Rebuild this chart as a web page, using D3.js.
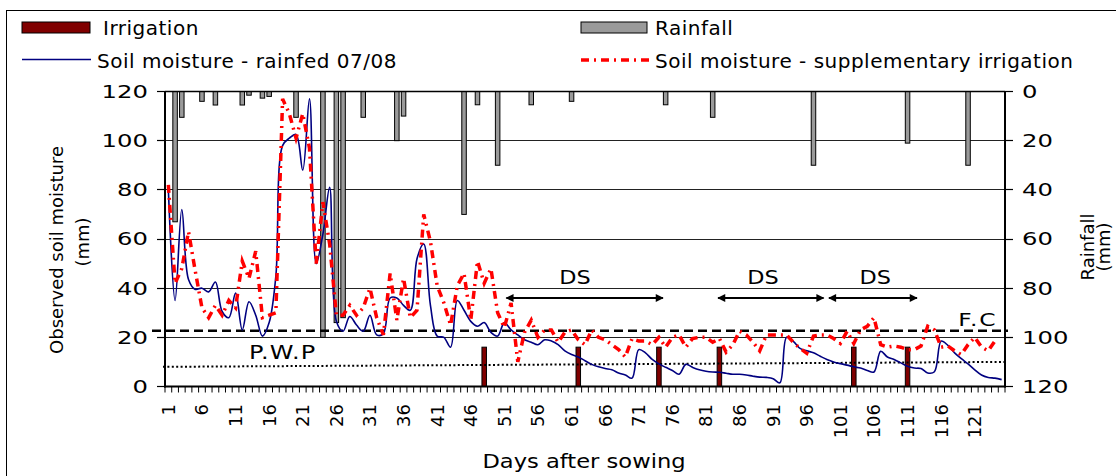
<!DOCTYPE html>
<html>
<head>
<meta charset="utf-8">
<script src="https://cdn.jsdelivr.net/npm/d3@7"></script>
<style>
  html, body { margin: 0; padding: 0; background: #fff; }
  svg { display: block; font-family: "DejaVu Sans", Verdana, sans-serif; }
</style>
</head>
<body>
<svg id="chart" width="1116" height="476"></svg>
<script>
// ---- data -------------------------------------------------------------
const days = d3.range(1, 126);

// Soil moisture (mm), rainfed plot
const rainfed = [
  80, 35, 72, 43.5, 39.5, 40, 38.5, 42.5, 30.5, 28,
  38, 23, 34.5, 29, 20.5, 26, 45, 98, 101, 102.5,
  88, 117, 50, 62, 81, 26.5, 22.5, 28.5, 25, 22.5,
  29, 21, 21.5, 36, 36, 33, 31, 52, 58, 33,
  20.5, 20, 16, 35, 31, 26.5, 24.5, 26, 22, 20.5,
  26, 23, 21, 19, 18, 17, 19, 18.5, 17, 14.5,
  13, 12, 10.5, 9, 8, 7.3, 6.8, 5.5, 4.7, 3.4,
  15, 13.7, 11, 9.2, 7.8, 6.5, 5, 9, 7.8, 6.8,
  6.2, 5.9, 5.8, 5.4, 5, 5, 4.7, 4.2, 3.8, 3.7,
  3.2, 1.5, 20, 18.4, 15.5, 14.5, 13.7, 12.3, 11, 10,
  9.3, 8.7, 8, 7.5, 6.5, 5.9, 14.3, 12, 11, 9.6,
  8.2, 7.5, 7.3, 5.5, 6, 18.5, 16.7, 13.7, 11.3, 9.2,
  6.8, 4.7, 3.7, 3.4, 2.8
];

// Soil moisture (mm), supplementary irrigation plot
const supplementary = [
  82, 42, 48, 63, 47, 32, 28, 33, 29, 35,
  32, 51, 44, 55, 28, 29, 30, 117, 111, 101,
  111, 97, 50, 75, 58, 29, 29, 33, 29, 32,
  40, 28, 21, 46, 27, 44, 28, 31, 70, 59,
  41, 34, 25, 41, 46, 27, 51, 42, 48, 30,
  24, 34, 10, 22, 27, 20, 23, 23, 18, 22,
  23, 19, 17, 23, 20, 19, 17, 15, 12, 19.5,
  18.5, 18.5, 17, 20, 16, 20, 21, 16, 19.5, 20,
  20, 18, 19.5, 14, 17, 22.5, 21, 18, 14.5, 21,
  21, 21, 21, 18, 15.5, 13.5, 20.5, 21, 21, 19.5,
  17.5, 22.5, 17.5, 23, 24.5, 28, 17, 16, 16.5, 16,
  15, 15, 16.5, 24.5, 23, 16, 16.5, 14.5, 13, 17,
  20, 16, 14.5, 18.5, null
];

// Rainfall events (mm)
const rainDays    = [2, 3, 6, 8, 12, 13, 15, 16, 20, 24, 26, 27, 30, 35, 36, 45, 47, 50, 55, 61, 75, 82, 97, 111, 120];
const rainAmounts = [53, 10.5, 4, 5.5, 5.5, 1.5, 2.7, 2, 10.5, 100, 94, 92, 10.5, 20, 10, 50, 5.4, 30, 5.4, 4, 5.4, 10.5, 30, 21, 30];

// Irrigation events (mm)
const irrigationDays    = [48, 62, 74, 83, 103, 111];
const irrigationAmounts = [16, 16, 16, 16, 16, 16];

// Reference levels (mm)
const fieldCapacity = 22.7;
const wiltingPointEnds = [8, 10];

// Dry spells: [start day, end day]
const drySpells = [[51.3, 74.6], [82.8, 98.5], [99.3, 112.4]];
const drySpellLabelDays = [61.5, 89.5, 106.2];

const soilTicks = [0, 20, 40, 60, 80, 100, 120];
const rainTicks = [0, 20, 40, 60, 80, 100, 120];
const dayLabels = days.filter(d => (d - 1) % 5 === 0 && d <= 121);

// ---- layout -----------------------------------------------------------
const plot = { left: 165, right: 1005, top: 91.5, bottom: 386.5 };

const svg = d3.select("#chart");

const xBand = d3.scaleBand().domain(days).range([plot.left, plot.right]).paddingInner(0).paddingOuter(0);
const bw = xBand.bandwidth();
const xc = d => xBand(d) + bw / 2;
const xDay = d3.scaleLinear().domain([0.5, days.length + 0.5]).range([plot.left, plot.right]);

const ySoil = d3.scaleLinear().domain([0, 120]).range([plot.bottom, plot.top]);
const yRain = d3.scaleLinear().domain([0, 120]).range([plot.top, plot.bottom]);

const crisp = v => Math.round(v - 0.5) + 0.5;

function label(parent, x, y, str, o) {
  const tr = `translate(${x},${y})` + (o.rotate ? ` rotate(${o.rotate})` : "") + ` scale(${o.sx || 1},1)`;
  return parent.append("text")
    .attr("transform", tr)
    .attr("text-anchor", o.anchor || "start")
    .attr("dy", o.dy || null)
    .attr("font-size", o.size)
    .attr("letter-spacing", o.ls || null)
    .attr("fill", "#000")
    .text(str);
}

// outer frame
svg.append("rect")
  .attr("x", 6.5).attr("y", 10.5).attr("width", 1130).attr("height", 490)
  .attr("fill", "none").attr("stroke", "#000").attr("stroke-width", 1);

// ---- gridlines ----------------------------------------------------------
const grid = svg.append("g");
grid.selectAll("line").data(soilTicks.filter(t => t > 0)).join("line")
  .attr("x1", plot.left).attr("x2", plot.right)
  .attr("y1", d => crisp(ySoil(d))).attr("y2", d => crisp(ySoil(d)))
  .attr("stroke", "#222").attr("stroke-width", 1);

// ---- bars ---------------------------------------------------------------
const barW = 4.5;
const rain = rainDays.map((d, i) => ({ day: d, v: rainAmounts[i] }));
svg.append("g").selectAll("rect").data(rain).join("rect")
  .attr("x", d => xc(d.day) - barW / 2)
  .attr("y", yRain(0))
  .attr("width", barW)
  .attr("height", d => yRain(d.v) - yRain(0))
  .attr("fill", "#9a9a9a").attr("stroke", "#000").attr("stroke-width", 1);

const irr = irrigationDays.map((d, i) => ({ day: d, v: irrigationAmounts[i] }));
svg.append("g").selectAll("rect").data(irr).join("rect")
  .attr("x", d => xc(d.day) - barW / 2)
  .attr("y", d => ySoil(d.v))
  .attr("width", barW)
  .attr("height", d => ySoil(0) - ySoil(d.v))
  .attr("fill", "#800000").attr("stroke", "#000").attr("stroke-width", 1);

// ---- reference levels ---------------------------------------------------
svg.append("line")
  .attr("x1", plot.left - 13).attr("x2", plot.right + 3)
  .attr("y1", ySoil(fieldCapacity)).attr("y2", ySoil(fieldCapacity))
  .attr("stroke", "#000").attr("stroke-width", 2.5).attr("stroke-dasharray", "9,5");

svg.append("line")
  .attr("x1", plot.left - 2).attr("x2", plot.right + 2)
  .attr("y1", ySoil(wiltingPointEnds[0])).attr("y2", ySoil(wiltingPointEnds[1]))
  .attr("stroke", "#000").attr("stroke-width", 2).attr("stroke-dasharray", "2,2.4");

// ---- soil moisture lines -----------------------------------------------
const rainfedLine = d3.line()
  .x((v, i) => xc(days[i])).y(v => ySoil(v))
  .curve(d3.curveCatmullRom.alpha(0.5));
svg.append("path").datum(rainfed)
  .attr("d", rainfedLine)
  .attr("fill", "none").attr("stroke", "#000080").attr("stroke-width", 1.6);

const suppLine = d3.line()
  .defined(v => v != null)
  .x((v, i) => xc(days[i])).y(v => ySoil(v));
svg.append("path").datum(supplementary)
  .attr("d", suppLine)
  .attr("fill", "none").attr("stroke", "#ff0000").attr("stroke-width", 3.5)
  .attr("stroke-dasharray", "8,5,2,5");

// ---- axes ---------------------------------------------------------------
const axes = svg.append("g").attr("stroke", "#000");
axes.append("line").attr("x1", plot.left).attr("x2", plot.left).attr("y1", plot.top).attr("y2", plot.bottom + 1).attr("stroke-width", 2);
axes.append("line").attr("x1", plot.right).attr("x2", plot.right).attr("y1", plot.top).attr("y2", plot.bottom + 1).attr("stroke-width", 2);
axes.append("line").attr("x1", plot.left - 1).attr("x2", plot.right + 1).attr("y1", plot.bottom).attr("y2", plot.bottom).attr("stroke-width", 2);
axes.append("line").attr("x1", plot.left).attr("x2", plot.right).attr("y1", crisp(plot.top)).attr("y2", crisp(plot.top)).attr("stroke-width", 1.5);

axes.selectAll(".lt").data(soilTicks).join("line")
  .attr("x1", plot.left - 8).attr("x2", plot.left)
  .attr("y1", d => crisp(ySoil(d))).attr("y2", d => crisp(ySoil(d))).attr("stroke-width", 1.2);
axes.selectAll(".rt").data(rainTicks).join("line")
  .attr("x1", plot.right).attr("x2", plot.right + 8)
  .attr("y1", d => crisp(yRain(d))).attr("y2", d => crisp(yRain(d))).attr("stroke-width", 1.2);
const bounds = d3.range(0, days.length + 1).map(i => plot.left + i * bw);
axes.selectAll(".bt").data(bounds).join("line")
  .attr("x1", d => d).attr("x2", d => d)
  .attr("y1", plot.bottom).attr("y2", plot.bottom + 6).attr("stroke-width", 1);

const txt = svg.append("g");
soilTicks.forEach(t => label(txt, 148, ySoil(t), String(t), { anchor: "end", dy: "0.36em", size: 18, sx: 1.35 }));
rainTicks.forEach(t => label(txt, 1022, yRain(t), String(t), { anchor: "start", dy: "0.36em", size: 18, sx: 1.35 }));
dayLabels.forEach(d => label(txt, xc(d) + 6.5, 404, String(d), { anchor: "end", rotate: -90, size: 18 }));

// axis titles
label(txt, 584, 468, "Days after sowing", { anchor: "middle", size: 20, sx: 1.13 });
label(txt, 63, 250, "Observed soil moisture", { anchor: "middle", rotate: -90, size: 18 });
label(txt, 89, 242, "(mm)", { anchor: "middle", rotate: -90, size: 18 });
label(txt, 1094, 247, "Rainfall", { anchor: "middle", rotate: -90, size: 18 });
label(txt, 1110, 247, "(mm)", { anchor: "middle", rotate: -90, size: 18 });

// ---- annotations --------------------------------------------------------
const defs = svg.append("defs");
defs.append("marker").attr("id", "head")
  .attr("viewBox", "0 0 10 10").attr("refX", 9).attr("refY", 5)
  .attr("markerWidth", 10).attr("markerHeight", 8).attr("markerUnits", "userSpaceOnUse")
  .attr("orient", "auto-start-reverse")
  .append("path").attr("d", "M0,0 L10,5 L0,10 Z").attr("fill", "#000");

svg.append("g").selectAll("line").data(drySpells).join("line")
  .attr("x1", d => xDay(d[0])).attr("x2", d => xDay(d[1]))
  .attr("y1", ySoil(36)).attr("y2", ySoil(36))
  .attr("stroke", "#000").attr("stroke-width", 2)
  .attr("marker-start", "url(#head)").attr("marker-end", "url(#head)");

drySpellLabelDays.forEach(d => label(txt, xDay(d), ySoil(41.5), "DS", { anchor: "middle", size: 20, sx: 1.12 }));
label(txt, xDay(13), ySoil(11), "P.W.P", { anchor: "start", size: 20, sx: 1.2, ls: 1 });
label(txt, xDay(124.4), ySoil(24.5), "F.C", { anchor: "end", size: 18, sx: 1.3, ls: 1.5 });

// ---- legend -------------------------------------------------------------
const lg = svg.append("g");
lg.append("rect").attr("x", 22).attr("y", 22).attr("width", 68).attr("height", 11)
  .attr("fill", "#800000").attr("stroke", "#000").attr("stroke-width", 1);
label(lg, 103, 35.3, "Irrigation", { size: 20, ls: 0.5 });
lg.append("rect").attr("x", 581).attr("y", 22).attr("width", 66).attr("height", 11)
  .attr("fill", "#9a9a9a").attr("stroke", "#000").attr("stroke-width", 1);
label(lg, 655, 35.3, "Rainfall", { size: 20, ls: 0.5 });
lg.append("line").attr("x1", 22).attr("x2", 91).attr("y1", 59.5).attr("y2", 59.5)
  .attr("stroke", "#000080").attr("stroke-width", 1.6);
label(lg, 97, 68, "Soil moisture - rainfed 07/08", { size: 20, ls: 0.5 });
lg.append("line").attr("x1", 581).attr("x2", 651).attr("y1", 60).attr("y2", 60)
  .attr("stroke", "#ff0000").attr("stroke-width", 3.5).attr("stroke-dasharray", "8,5,2,5");
label(lg, 655, 68, "Soil moisture - supplementary irrigation", { size: 20, ls: 0.5 });
</script>
</body>
</html>
